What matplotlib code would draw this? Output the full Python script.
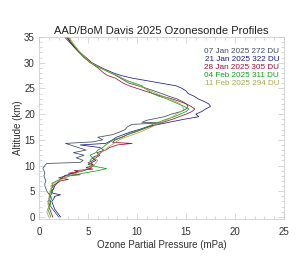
import matplotlib
matplotlib.use('Agg')
import matplotlib.pyplot as plt
from matplotlib.ticker import MultipleLocator

plt.rcParams['font.family'] = ['Liberation Sans', 'DejaVu Sans']

title = "AAD/BoM Davis 2025 Ozonesonde Profiles"
dates = ["07 Jan 2025", "21 Jan 2025", "28 Jan 2025", "04 Feb 2025", "11 Feb 2025"]
total_du = [272, 322, 305, 311, 294]
colors = ["#3c4c5c", "#1c1c8c", "#9c1038", "#10a018", "#a8a848"]

# 07 Jan
alt_0107 = [0.0, 0.5, 1.0, 1.5, 2.0, 2.5, 3.0, 3.5, 4.0, 4.5, 5.0, 5.5, 6.0, 6.5, 7.0, 7.5,
            8.0, 8.5, 9.0, 9.5, 10.0, 10.4, 10.6, 11.0, 11.5, 12.0, 12.5, 13.0, 13.5, 14.0,
            14.3, 14.6, 15.0, 15.5, 16.0, 16.5, 17.0, 17.5, 18.0, 18.3, 18.4, 18.8, 19.5,
            20.0, 20.5, 21.0, 21.5, 22.0, 22.5, 23.0, 23.5, 24.0, 25.0, 26.0, 27.0, 28.0,
            29.0, 30.0, 31.0, 32.0, 33.0, 34.0, 35.0]
o3_0107 = [2.0, 1.8, 1.6, 1.4, 1.2, 1.0, 0.9, 1.1, 1.2, 1.0, 0.8, 0.7, 0.6, 0.6, 0.7, 0.6,
           0.5, 0.6, 0.5, 0.4, 0.6, 0.8, 4.2, 4.5, 3.8, 4.6, 3.5, 4.8, 4.0, 3.2,
           2.7, 5.5, 6.5, 6.0, 7.5, 8.2, 8.8, 9.0, 9.5, 12.5, 10.5, 11.0, 12.8,
           13.5, 14.5, 15.0, 15.2, 15.0, 14.6, 14.0, 13.2, 12.5, 11.0, 9.2, 8.3, 7.4,
           6.3, 5.3, 4.6, 4.1, 3.6, 3.2, 2.9]

# 21 Jan
alt_0121 = [0.0, 0.5, 1.0, 1.5, 2.0, 2.5, 3.0, 3.5, 4.0, 4.3, 4.6, 5.0, 5.5, 6.0, 6.5, 7.0,
            7.5, 8.0, 8.5, 9.0, 9.5, 10.0, 10.5, 11.0, 11.5, 12.0, 12.5, 13.0, 13.5, 14.0,
            14.3, 15.0, 15.5, 16.0, 16.5, 17.0, 17.5, 18.0, 18.5, 19.0, 19.5, 20.0, 20.5,
            21.0, 21.5, 22.0, 22.5, 23.0, 23.5, 24.0, 24.5, 25.0, 25.5, 26.0, 26.5, 27.0,
            27.5, 28.0, 29.0, 30.0, 31.0, 32.0, 33.0, 34.0, 35.0]
o3_0121 = [2.2, 2.0, 1.8, 1.6, 1.5, 1.4, 1.3, 1.5, 1.6, 2.2, 1.4, 1.3, 1.5, 1.6, 1.8, 2.0,
           2.3, 2.6, 3.5, 4.6, 5.2, 5.6, 5.3, 5.8, 5.4, 6.0, 6.3, 6.6, 6.2, 4.2,
           6.8, 7.5, 7.9, 8.6, 9.3, 10.2, 11.0, 12.2, 13.5, 14.8, 16.3, 16.0, 16.6,
           17.0, 17.5, 17.3, 16.8, 16.2, 15.8, 15.2, 15.0, 14.6, 14.0, 12.5, 11.0, 9.5,
           8.4, 7.6, 6.4, 5.4, 4.8, 4.2, 3.7, 3.2, 2.8]

# 28 Jan
alt_0128 = [0.0, 0.5, 1.0, 1.5, 2.0, 2.5, 3.0, 3.5, 4.0, 4.5, 5.0, 5.5, 6.0, 6.5, 7.0, 7.3,
            7.6, 8.0, 8.2, 8.5, 8.8, 9.0, 9.3, 9.6, 10.0, 10.5, 11.0, 11.5, 12.0, 12.5,
            13.0, 13.5, 14.0, 14.3, 14.5, 15.0, 15.5, 16.0, 16.5, 17.0, 17.5, 18.0, 18.5,
            19.0, 19.5, 20.0, 20.5, 21.0, 21.5, 22.0, 22.5, 23.0, 23.5, 24.0, 24.5, 25.0,
            25.5, 26.0, 26.5, 27.0, 27.5, 28.0, 28.5, 29.0, 30.0, 31.0, 32.0, 33.0, 34.0, 35.0]
o3_0128 = [1.4, 1.3, 1.2, 1.1, 1.0, 1.1, 1.2, 1.0, 1.1, 1.3, 1.2, 1.5, 1.3, 1.8, 2.2, 3.0,
           2.0, 2.8, 4.2, 3.0, 4.0, 3.6, 5.5, 4.8, 5.6, 5.0, 5.5, 5.8, 6.2, 5.9,
           6.8, 7.2, 8.0, 9.5, 7.5, 7.8, 8.5, 9.0, 9.8, 10.5, 11.2, 12.0, 12.8,
           13.6, 14.3, 15.0, 15.6, 15.9, 15.5, 15.0, 14.3, 13.5, 12.5, 11.6, 10.8, 10.0,
           9.2, 8.6, 8.2, 7.8, 7.0, 6.6, 6.3, 6.0, 5.3, 4.7, 4.1, 3.6, 3.1, 2.6]

# 04 Feb
alt_0204 = [0.0, 0.5, 1.0, 1.5, 2.0, 2.5, 3.0, 3.5, 4.0, 4.5, 5.0, 5.5, 6.0, 6.5, 7.0, 7.5,
            8.0, 8.5, 9.0, 9.4, 9.8, 10.2, 10.5, 11.0, 11.5, 12.0, 12.5, 13.0, 13.5, 14.0,
            14.5, 15.0, 15.5, 16.0, 16.5, 17.0, 17.5, 18.0, 18.5, 19.0, 19.5, 20.0, 20.5,
            21.0, 21.5, 22.0, 22.5, 23.0, 23.5, 24.0, 24.5, 25.0, 25.5, 26.0, 26.5, 27.0,
            27.5, 28.0, 29.0, 30.0, 31.0, 32.0, 33.0, 34.0, 35.0]
o3_0204 = [1.2, 1.1, 1.0, 0.9, 1.0, 1.2, 1.1, 1.3, 1.2, 1.0, 1.4, 1.2, 1.5, 1.3, 1.8, 2.4,
           3.2, 4.5, 6.0, 6.9, 5.8, 5.0, 5.4, 5.2, 5.5, 5.2, 5.8, 6.0, 6.5, 6.8,
           7.2, 7.6, 8.4, 9.0, 9.6, 10.4, 11.0, 11.6, 12.3, 13.0, 13.8, 14.4, 15.0,
           15.3, 14.8, 14.2, 13.6, 13.0, 12.2, 11.6, 11.2, 10.8, 10.5, 9.8, 9.0, 8.4,
           7.9, 7.3, 6.2, 5.2, 4.6, 4.1, 3.7, 3.3, 3.0]

# 11 Feb
alt_0211 = [0.0, 0.5, 1.0, 1.5, 2.0, 2.5, 3.0, 3.5, 4.0, 4.5, 5.0, 5.5, 6.0, 6.5, 7.0, 7.5,
            8.0, 8.5, 9.0, 9.5, 10.0, 10.5, 11.0, 11.5, 12.0, 12.5, 13.0, 13.5, 14.0, 14.5,
            15.0, 15.5, 16.0, 16.5, 17.0, 17.5, 18.0, 18.5, 19.0, 19.5, 20.0, 20.5, 21.0,
            21.5, 22.0, 22.5, 23.0, 23.5, 24.0, 24.5, 25.0, 25.5, 26.0, 26.5, 27.0, 27.5,
            28.0, 29.0, 30.0, 31.0, 32.0, 33.0, 34.0, 35.0]
o3_0211 = [1.0, 0.9, 0.8, 0.9, 1.0, 0.9, 1.0, 1.1, 1.0, 1.2, 1.1, 1.3, 1.2, 1.5, 2.0, 2.6,
           3.0, 3.8, 4.4, 5.0, 5.6, 5.8, 6.0, 5.6, 5.9, 6.3, 6.7, 7.0, 7.4, 7.8,
           8.2, 8.8, 9.6, 10.3, 10.9, 11.5, 12.0, 12.6, 13.2, 13.6, 14.0, 14.5, 14.8,
           14.6, 14.4, 13.9, 13.3, 12.6, 12.0, 11.4, 10.8, 10.2, 9.6, 9.0, 8.5, 8.0,
           7.4, 6.3, 5.3, 4.7, 4.2, 3.8, 3.4, 3.1]

alts = [alt_0107, alt_0121, alt_0128, alt_0204, alt_0211]
o3s = [o3_0107, o3_0121, o3_0128, o3_0204, o3_0211]

fig = plt.figure(figsize=(3.0, 2.57), dpi=100)
ax = fig.add_axes([0.13, 0.148, 0.817, 0.708])

for a, o, c in zip(alts, o3s, colors):
    ax.plot(o, a, color=c, lw=0.55)

ax.set_xlim(0, 25)
ax.set_ylim(-0.4, 35)
ax.xaxis.set_major_locator(MultipleLocator(5))
ax.xaxis.set_minor_locator(MultipleLocator(1))
ax.yaxis.set_major_locator(MultipleLocator(5))
ax.yaxis.set_minor_locator(MultipleLocator(1))
ax.tick_params(which='both', direction='in', top=True, right=True, color='#c8c8c8',
               labelsize=7, labelcolor='#303030')
ax.tick_params(axis='x', pad=6)
ax.tick_params(axis='y', pad=3)
ax.tick_params(which='major', length=4, width=0.5)
ax.tick_params(which='minor', length=2, width=0.5)
for s in ax.spines.values():
    s.set_color('#c8c8c8')
    s.set_linewidth(0.5)

ax.set_title(title, fontsize=8, color='#202020', pad=2)
ax.set_xlabel("Ozone Partial Pressure (mPa)", fontsize=7, color='#303030', labelpad=2)
ax.set_ylabel("Altitude (km)", fontsize=7, color='#303030', labelpad=1)

for i, (d, du, c) in enumerate(zip(dates, total_du, colors)):
    ax.text(0.98, 0.918 - i * 0.044, f"{d} {du} DU", transform=ax.transAxes,
            ha='right', va='center', fontsize=5.9, color=c)

fig.savefig("out.png", dpi=100)
